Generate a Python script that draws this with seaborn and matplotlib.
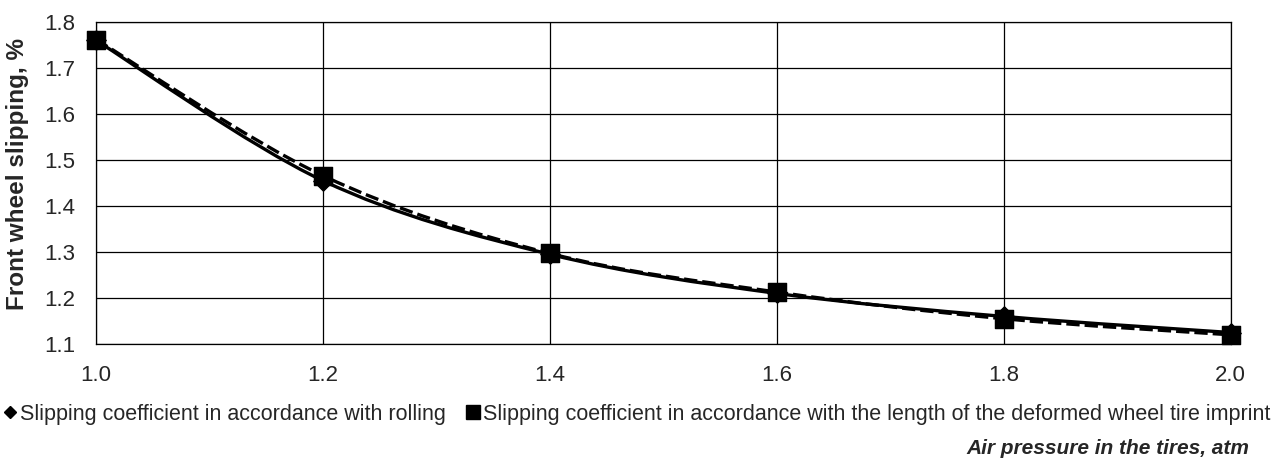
import matplotlib
matplotlib.use("Agg")
import matplotlib.pyplot as plt
import numpy as np
import pandas as pd
import seaborn as sns
from matplotlib.lines import Line2D
from matplotlib.patches import PathPatch
from matplotlib.path import Path
from matplotlib.ticker import FormatStrFormatter


pressure = [1.0, 1.2, 1.4, 1.6, 1.8, 2.0]
slip_rolling = [1.760, 1.455, 1.295, 1.210, 1.160, 1.125]
slip_imprint = [1.762, 1.466, 1.297, 1.213, 1.155, 1.120]

label_rolling = "Slipping coefficient in accordance with rolling"
label_imprint = "Slipping coefficient in accordance with the length of the deformed wheel tire imprint"
x_title = "Air pressure in the tires, atm"
y_title = "Front wheel slipping, %"


def smooth_path(xs, ys):
    # Excel-style smoothed line: cubic Bezier through every point
    pts = np.column_stack([xs, ys])
    padded = np.vstack([pts[0], pts, pts[-1]])
    verts = [pts[0]]
    codes = [Path.MOVETO]
    for i in range(len(pts) - 1):
        p0, p1, p2, p3 = padded[i], padded[i + 1], padded[i + 2], padded[i + 3]
        verts += [p1 + (p2 - p0) / 6, p2 - (p3 - p1) / 6, p2]
        codes += [Path.CURVE4] * 3
    return Path(verts, codes)


sns.set_style("white")
plt.rcParams["font.family"] = ["Liberation Sans", "DejaVu Sans"]

df = pd.DataFrame({"pressure": pressure, "rolling": slip_rolling, "imprint": slip_imprint})

fig = plt.figure(figsize=(12.74, 4.59), dpi=100)
ax = fig.add_axes([0.0754, 0.2505, 0.8906, 0.7015])

ax.add_patch(PathPatch(smooth_path(pressure, slip_rolling), fill=False, edgecolor="black", lw=2.4, zorder=3))
ax.add_patch(PathPatch(smooth_path(pressure, slip_imprint), fill=False, edgecolor="black", lw=2.4,
                       linestyle=(0, (4, 1.5)), zorder=3))

sns.scatterplot(data=df, x="pressure", y="rolling", marker="D", s=100, color="black", edgecolor="black",
                ax=ax, zorder=4, clip_on=False)
sns.scatterplot(data=df, x="pressure", y="imprint", marker="s", s=170, color="black", edgecolor="black",
                ax=ax, zorder=5, clip_on=False)

ax.set_xlim(1.0, 2.0)
ax.set_ylim(1.1, 1.8)
ax.set_xticks(np.arange(1.0, 2.01, 0.2))
ax.set_yticks(np.arange(1.1, 1.81, 0.1))
ax.xaxis.set_major_formatter(FormatStrFormatter("%.1f"))
ax.yaxis.set_major_formatter(FormatStrFormatter("%.1f"))
ax.tick_params(length=0, labelsize=16)
ax.tick_params(axis="x", pad=15)
ax.tick_params(axis="y", pad=15)
ax.grid(True, color="black", lw=0.9)
for sp in ax.spines.values():
    sp.set_color("black")
    sp.set_linewidth(0.9)

ax.set_xlabel("")
ax.set_ylabel("")
fig.text(17.5 / 1274, 1 - 174 / 459, y_title, rotation=90, ha="center", va="center",
         fontsize=17.5, fontweight="bold")

handles = [
    Line2D([], [], marker="D", color="black", linestyle="none", markersize=6.5),
    Line2D([], [], marker="s", color="black", linestyle="none", markersize=10),
]
fig.legend(handles, [label_rolling, label_imprint], loc="center", bbox_to_anchor=(0.5, 0.098), ncol=2,
           frameon=False, fontsize=15.5, handlelength=0.6, handletextpad=0.15, columnspacing=1.0,
           borderpad=0.1)

fig.text(0.981, 0.022, x_title, ha="right", va="center", fontsize=15, fontweight="bold", fontstyle="italic")

fig.savefig("out.png", dpi=100)
